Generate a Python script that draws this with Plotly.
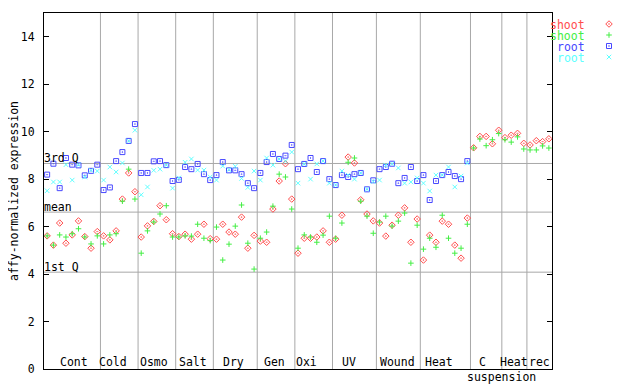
import plotly.graph_objects as go

# ---------------- data ----------------
groups = ["Cont", "Cold", "Osmo", "Salt", "Dry", "Gen", "Oxi", "UV", "Wound", "Heat", "C", "Heat", "rec"]
group_sizes = [9, 6, 6, 6, 7, 6, 6, 7, 7, 8, 5, 4, 4]
label_pos = [5.24, 11.5, 18.0, 24.3, 30.7, 37.3, 42.4, 49.2, 56.8, 63.5, 70.4, 75.4, 79.5]
sub_label = "suspension"
sub_label_pos = 73.5

shoot_1 = [5.61, 5.22, 6.15, 5.30, 5.65, 6.24, 5.58, 5.09, 5.79,
           5.61, 5.44, 5.82, 7.16, 8.26, 7.47,
           5.56, 6.03, 6.22, 6.88, 6.29, 5.70,
           5.58, 5.68, 5.47, 5.68, 6.10, 5.49,
           5.47, 6.10, 5.77, 5.68, 6.40, 5.09, 5.63,
           5.39, 5.34, 6.74, 7.92, 8.65, 7.16,
           4.88, 5.51, 5.51, 5.56, 5.82, 5.34,
           5.47, 6.48, 8.93, 8.68, 7.13, 6.53, 6.24,
           6.15, 5.60, 6.06, 6.48, 6.79, 5.34, 6.32,
           4.59, 5.64, 5.34, 6.23, 6.10, 5.22, 4.67, 6.36,
           9.32, 9.80, 9.80, 9.49, 10.06,
           9.75, 9.85, 9.93, 9.51,
           9.44, 9.62, 9.58, 9.70]
shoot_2 = [5.61, 5.22, 5.65, 5.56, 5.70, 5.91, 5.56, 5.27, 5.61,
           5.27, 5.65, 5.70, 7.07, 8.42, 7.16,
           4.88, 5.82, 6.19, 6.53, 6.88, 5.56,
           5.56, 5.61, 5.60, 6.10, 5.51, 5.41,
           5.98, 4.59, 5.26, 6.02, 6.91, 5.30, 4.21,
           5.51, 5.77, 6.86, 8.21, 8.09, 6.74,
           5.09, 5.65, 5.56, 5.34, 5.64, 6.44,
           5.51, 6.15, 8.71, 8.89, 7.07, 6.44, 5.72,
           6.19, 6.44, 6.02, 6.23, 6.57, 4.46, 6.06,
           5.05, 5.51, 5.13, 6.48, 5.51, 4.88, 5.09, 6.10,
           9.31, 9.69, 9.41, 9.66, 9.92,
           9.66, 9.56, 9.78, 9.27,
           9.23, 9.23, 9.40, 9.31]
root_1 = [8.19, 8.65, 7.62, 8.89, 8.61, 8.58, 8.16, 8.35, 8.61,
          7.54, 7.65, 8.76, 9.14, 9.61, 10.32,
          8.26, 8.26, 8.75, 8.76, 8.59, 7.92,
          7.97, 8.51, 8.42, 8.64, 8.21, 7.96,
          8.17, 8.72, 8.37, 8.37, 8.21, 7.83, 7.62,
          8.26, 8.72, 9.06, 8.85, 8.99, 9.44,
          8.42, 8.64, 8.89, 8.30, 8.76, 8.00,
          7.75, 8.17, 8.09, 8.21, 8.26, 7.57, 7.95,
          8.42, 8.51, 8.65, 7.83, 8.05, 8.51, 7.92,
          8.17, 7.12, 7.92, 8.17, 8.30, 8.13, 8.00, 8.76]
root_2 = [7.51, 7.88, 7.88, 8.61, 7.96, 8.60, 8.09, 8.37, 8.34,
          7.96, 8.51, 8.30, 8.68, 9.61, 10.06,
          7.34, 7.67, 8.37, 8.42, 8.59, 7.62,
          8.05, 8.71, 8.85, 8.38, 8.38, 8.09,
          7.96, 8.55, 8.40, 8.54, 8.03, 7.65, 8.34,
          7.96, 8.89, 8.59, 8.85, 8.76, 9.14,
          7.83, 8.64, 8.00, 8.64, 8.76, 7.83,
          7.75, 8.34, 8.17, 8.00, 8.26, 7.57, 7.90,
          7.96, 8.59, 8.65, 8.47, 7.83, 7.88, 8.05,
          7.83, 7.50, 8.17, 8.17, 8.51, 7.67, 8.13, 8.68]

quartile_names = ["3rd Q", "mean", "1st Q"]
quartile_values = [8.66, 6.61, 4.08]

series_names = ["shoot", "shoot", "root", "root"]
series_values = [shoot_1, shoot_2, root_1, root_2]

# ---------------- style ----------------
colors = ["#ff4c4c", "#44ee44", "#4848ff", "#60ffff"]
symbols = ["diamond-open-dot", "cross-thin-open", "square-open-dot", "x-thin-open"]
sizes = [5, 4, 5, 4.5]
FONT = "DejaVu Sans Mono"
FS = 11.5

# the page body has an 8px margin, so the figure is drawn 8px right/down
OFF = 8
W, H = 640 - OFF, 384 - OFF
L, R, T, B = 44 - OFF, 20, 13 - OFF, 15
PW = W - L - R
PLOT_W = 508
dom_end = PLOT_W / PW

n = len(shoot_1)
fig = go.Figure()

for name, vals, c, s, sz in zip(series_names, series_values, colors, symbols, sizes):
    xs = list(range(1, len(vals) + 1))
    fig.add_trace(go.Scatter(
        x=xs, y=vals, mode="markers", name=name, showlegend=False,
        marker=dict(symbol=s, size=sz, color=c, line=dict(color=c, width=1)),
        xaxis="x", yaxis="y", cliponaxis=False))

# legend keys (auxiliary pixel-space axis in the right margin, screen coords)
legend_rows = [24, 35, 46, 57]
legend_text_right = 586
legend_marker_x = 609
for name, c, s, sz, ry in zip(series_names, colors, symbols, sizes, legend_rows):
    fig.add_trace(go.Scatter(
        x=[legend_marker_x], y=[ry], mode="markers", showlegend=False,
        marker=dict(symbol=s, size=sz, color=c, line=dict(color=c, width=1)),
        xaxis="x2", yaxis="y2", hoverinfo="skip"))

shapes = []
b = 0
for gs in group_sizes[:-1]:
    b += gs
    shapes.append(dict(type="line", xref="x", yref="y domain", x0=b + 0.5, x1=b + 0.5,
                       y0=0, y1=1, line=dict(color="#a8a8a8", width=1), layer="below"))
for qv in quartile_values:
    shapes.append(dict(type="line", xref="x domain", yref="y", x0=0, x1=1, y0=qv, y1=qv,
                       line=dict(color="#a8a8a8", width=1), layer="below"))

annotations = []
for qn, qv in zip(quartile_names, quartile_values):
    annotations.append(dict(text=qn, xref="x domain", yref="y", x=0, y=qv,
                            xanchor="left", yanchor="bottom", showarrow=False,
                            font=dict(family=FONT, size=FS, color="black"),
                            borderpad=0, yshift=-3, xshift=-1))
for g, p in zip(groups, label_pos):
    annotations.append(dict(text=g, xref="x", yref="y domain", x=p, y=0,
                            xanchor="center", yanchor="bottom", showarrow=False,
                            font=dict(family=FONT, size=FS, color="black"),
                            borderpad=0, yshift=-1))
annotations.append(dict(text=sub_label, xref="x", yref="y domain", x=sub_label_pos, y=0,
                        xanchor="center", yanchor="top", showarrow=False,
                        font=dict(family=FONT, size=FS, color="black"),
                        borderpad=0, yshift=0))
for name, c, ry in zip(series_names, colors, legend_rows):
    annotations.append(dict(text=name, xref="x2", yref="y2", x=legend_text_right, y=ry,
                            xanchor="right", yanchor="middle", showarrow=False,
                            height=11, valign="middle",
                            font=dict(family=FONT, size=FS, color=c), borderpad=0))
annotations.append(dict(text="affy-normalized expression", xref="paper", yref="paper",
                        x=(14 - 44) / PW, y=0.5, xanchor="center", yanchor="middle",
                        textangle=-90, showarrow=False, borderpad=0,
                        font=dict(family=FONT, size=FS, color="black")))

fig.update_layout(
    width=W, height=H,
    margin=dict(l=L, r=R, t=T, b=B, pad=0, autoexpand=False),
    paper_bgcolor="white", plot_bgcolor="white",
    showlegend=False,
    font=dict(family=FONT, size=FS, color="black"),
    xaxis=dict(domain=[0, dom_end], range=[0.5, n + 0.5], showline=True, mirror=True,
               linecolor="black", linewidth=1, showticklabels=False, ticks="",
               showgrid=False, zeroline=False, anchor="y", automargin=False),
    yaxis=dict(range=[0, 15], tickvals=list(range(0, 15, 2)), ticks="inside", ticklen=5,
               tickcolor="black", tickwidth=1, mirror="ticks", showline=True,
               linecolor="black", linewidth=1, showgrid=False, zeroline=False,
               ticklabelstandoff=6, tickfont=dict(family=FONT, size=FS, color="black"),
               anchor="x", automargin=False),
    xaxis2=dict(domain=[dom_end, 1], range=[44 + PLOT_W, 620], visible=False,
                anchor="y2", fixedrange=True, automargin=False),
    yaxis2=dict(domain=[0, 1], range=[369, 13], visible=False, anchor="x2",
                fixedrange=True, automargin=False),
    shapes=shapes, annotations=annotations,
)

fig.write_html("out.html")
